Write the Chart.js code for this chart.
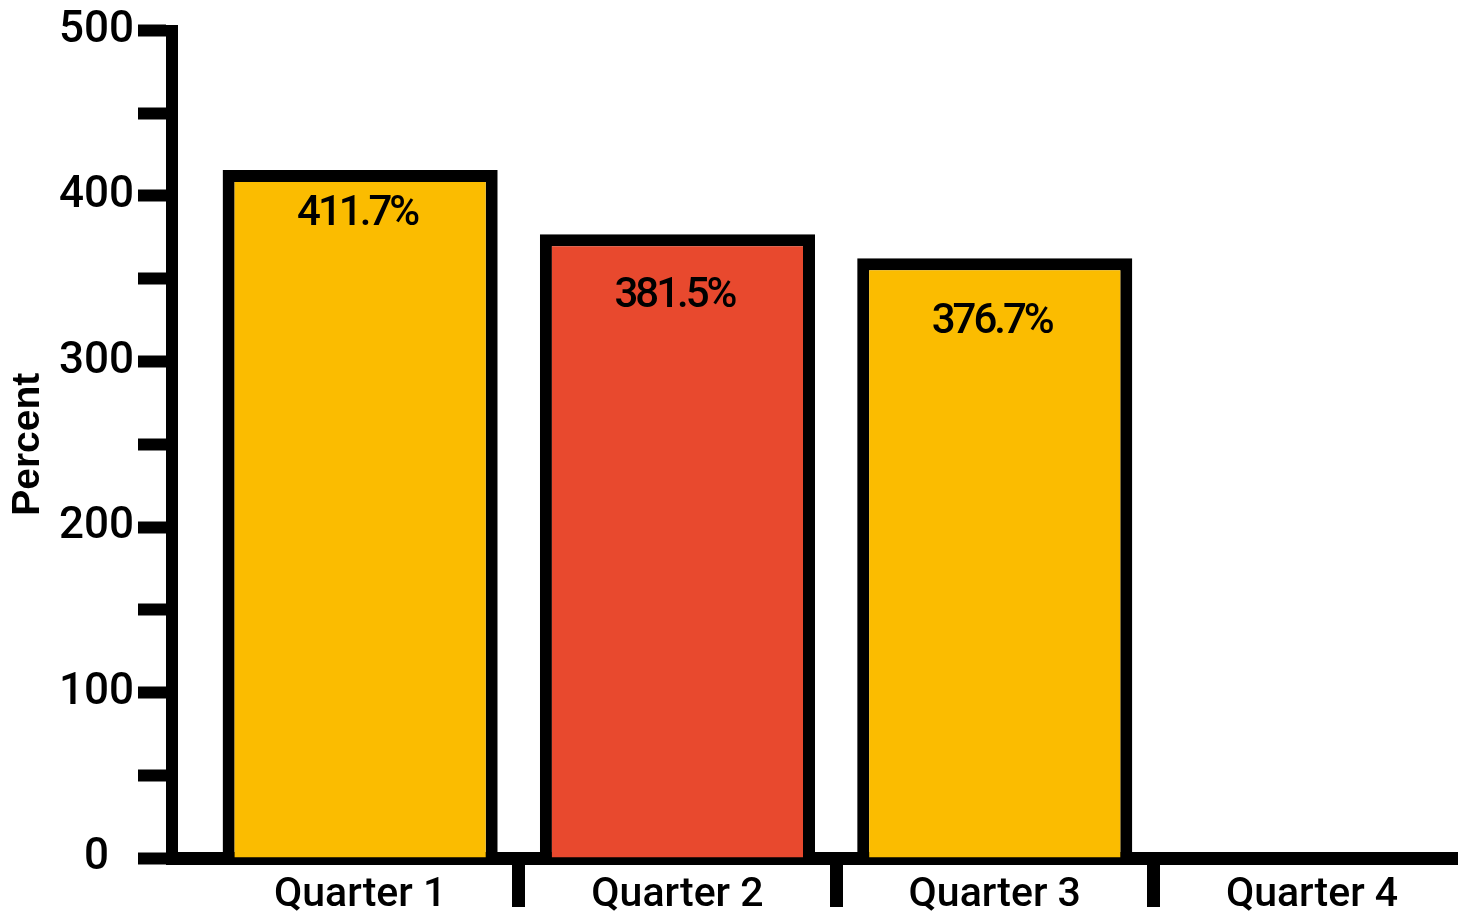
<!DOCTYPE html>
<html lang="en">
<head>
  <meta charset="UTF-8" />
  <title>Percent by quarter</title>
  <script src="https://cdn.jsdelivr.net/npm/chart.js"></script>
  <style>
    html, body { margin: 0; padding: 0; background: #fff; overflow: hidden; }
    .contenedor { position: relative; width: 1458px; height: 912px; }
  </style>
</head>
<body>
<div class="contenedor">
  <canvas id="grafico"></canvas>
</div>

<script>
// datos
const categories = ['Quarter 1', 'Quarter 2', 'Quarter 3', 'Quarter 4'];
const barValues = [415.7, 376.9, 362.4];          // altura de cada barra
const valueLabels = ['411.7%', '381.5%', '376.7%']; // texto impreso dentro
const barColors = ['#FBBC00', '#E8492E', '#FBBC00'];
const yTicks = [0, 50, 100, 150, 200, 250, 300, 350, 400, 450, 500];
const boundaries = [0.5, 1.5, 2.5];

const NEGRO = '#000';
const FUENTE = "Roboto, 'Liberation Sans', Arial, sans-serif";
Chart.defaults.font.family = FUENTE;
Chart.defaults.color = NEGRO;

// etiquetas dentro de las barras
const etiquetasBarras = {
  id: 'etiquetasBarras',
  afterDatasetsDraw(chart, args, opts) {
    const ctx = chart.ctx;
    const meta = chart.getDatasetMeta(0);
    ctx.save();
    ctx.font = opts.font;
    ctx.fillStyle = NEGRO;
    ctx.textAlign = 'center';
    ctx.textBaseline = 'middle';
    if ('letterSpacing' in ctx) ctx.letterSpacing = opts.spacing;
    meta.data.forEach((bar, i) => {
      ctx.fillText(valueLabels[i], bar.x - 3, bar.y + opts.offsets[i]);
    });
    ctx.restore();
  }
};

new Chart(document.getElementById('grafico'), {
  type: 'bar',
  data: {
    datasets: [{
      data: barValues.map((v, i) => ({ x: i, y: v })),
      backgroundColor: barColors,
      borderColor: NEGRO,
      borderWidth: 12,
      borderSkipped: 'start',
      categoryPercentage: 0.867,
      barPercentage: 1
    }]
  },
  options: {
    responsive: true,
    maintainAspectRatio: false,
    animation: false,
    layout: { padding: { top: 30.5, left: 0, right: 0, bottom: 0 } },
    plugins: {
      legend: { display: false },
      tooltip: { enabled: false },
      etiquetasBarras: {
        font: "500 42px " + FUENTE,
        spacing: '-3px',
        offsets: [44, 62, 64]
      }
    },
    scales: {
      xb: {
        type: 'linear',
        axis: 'x',
        position: 'bottom',
        weight: 0,
        offset: false,
        min: -0.593,
        max: 3.46,
        afterBuildTicks: s => { s.ticks = boundaries.map(v => ({ value: v })); },
        afterFit: s => { s.height = 0; },
        ticks: { display: false },
        grid: { display: true, offset: false, drawOnChartArea: false, drawTicks: true, tickLength: 49, tickWidth: 13, tickColor: NEGRO },
        border: { display: false }
      },
      x: {
        type: 'linear',
        position: 'bottom',
        weight: 1,
        z: 1,
        offset: false,
        min: -0.593,
        max: 3.46,
        afterBuildTicks: s => { s.ticks = categories.map((c, i) => ({ value: i })); },
        afterFit: s => { s.height = 54; },
        ticks: {
          autoSkip: false,
          maxRotation: 0,
          padding: 13,
          font: { size: 41, weight: 500 },
          color: NEGRO,
          callback: v => categories[v]
        },
        grid: { display: false, offset: false, drawTicks: false },
        border: { display: true, width: 13, color: NEGRO }
      },
      y: {
        position: 'left',
        min: 0,
        max: 500,
        afterBuildTicks: s => { s.ticks = yTicks.map(v => ({ value: v })); },
        afterFit: s => { s.width = 172; },
        ticks: {
          autoSkip: false,
          padding: 4,
          crossAlign: 'center',
          font: { size: 44, weight: 500 },
          color: NEGRO,
          callback: v => (v % 100 === 0 ? String(v) : '')
        },
        grid: { display: true, drawOnChartArea: false, drawTicks: true, tickLength: 34, tickWidth: 12, tickColor: NEGRO },
        border: { display: true, width: 12, color: NEGRO },
        title: {
          display: true,
          text: 'Percent',
          color: NEGRO,
          font: { family: "'Liberation Sans', Arial, sans-serif", size: 39, weight: 'bold' },
          padding: { top: 5, bottom: 0 }
        }
      }
    }
  },
  plugins: [etiquetasBarras]
});
</script>
</body>
</html>
